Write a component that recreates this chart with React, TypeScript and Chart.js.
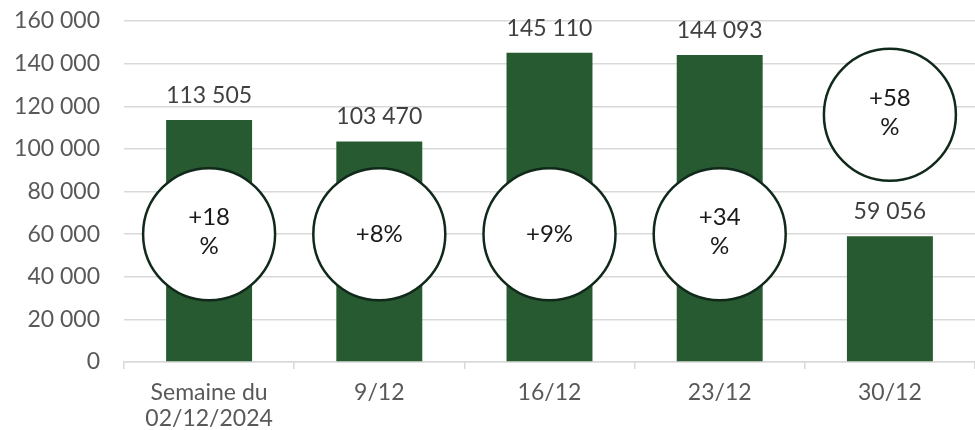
import React, { useEffect, useRef } from "react";
import { Chart, registerables } from "chart.js";

Chart.register(...registerables);

const categories: (string | string[])[] = [["Semaine du", "02/12/2024"], "9/12", "16/12", "23/12", "30/12"];
const weeklyValues = [113505, 103470, 145110, 144093, 59056];
const circleLevels = [60000, 60000, 60000, 60000, 116000];
const circleTexts: string[][] = [["+18", "%"], ["+8%"], ["+9%"], ["+34", "%"], ["+58", "%"]];

const FONT = "Lato, 'Noto Sans', sans-serif";
const fmt = (v: number) => String(Math.round(v)).replace(/\B(?=(\d{3})+(?!\d))/g, " ");

const labelPlugin = {
  id: "labels",
  afterDatasetsDraw(chart: any) {
    const ctx = chart.ctx;
    ctx.save();
    const barMeta = chart.getDatasetMeta(0);
    ctx.font = `23px ${FONT}`;
    ctx.fillStyle = "#404040";
    ctx.textAlign = "center";
    ctx.textBaseline = "alphabetic";
    barMeta.data.forEach((el: any, i: number) => {
      ctx.fillText(fmt(weeklyValues[i]), el.x, el.y - 17);
    });
    const cMeta = chart.getDatasetMeta(1);
    ctx.font = `24px ${FONT}`;
    ctx.fillStyle = "#1a1a1a";
    ctx.textBaseline = "middle";
    cMeta.data.forEach((el: any, i: number) => {
      const lines = circleTexts[i];
      const lh = 29;
      const start = el.y - (lines.length > 1 ? 2 : 0) - ((lines.length - 1) * lh) / 2;
      lines.forEach((t, j) => ctx.fillText(t, el.x, start + j * lh));
    });
    ctx.restore();
  },
};

export default function App() {
  const ref = useRef<HTMLCanvasElement>(null);
  useEffect(() => {
    document.body.style.margin = "0";
    const chart = new Chart(ref.current!, {
      type: "bar",
      data: {
        labels: categories as any,
        datasets: [
          {
            type: "bar",
            data: weeklyValues,
            backgroundColor: "#275a31",
            barPercentage: 0.505,
            categoryPercentage: 1,
            order: 2,
          },
          {
            type: "line",
            data: circleLevels,
            showLine: false,
            pointRadius: 66,
            pointHoverRadius: 66,
            pointBackgroundColor: "#ffffff",
            pointBorderColor: "#10291a",
            pointBorderWidth: 2.5,
            clip: false as any,
            order: 1,
          } as any,
        ],
      },
      options: {
        animation: false,
        responsive: false,
        devicePixelRatio: 1,
        layout: { autoPadding: false, padding: { top: 21, right: 0, bottom: 0, left: 0 } },
        plugins: { legend: { display: false }, tooltip: { enabled: false } },
        scales: {
          x: {
            afterFit: (s: any) => { s.height = 68; s.paddingLeft = 0; s.paddingRight = 0; },
            border: { display: true, color: "#d9d9d9", width: 1.5 },
            grid: { drawOnChartArea: false, drawTicks: true, tickLength: 7, color: "#d9d9d9", lineWidth: 1.5, offset: true },
            ticks: { color: "#595959", font: { family: FONT, size: 23, lineHeight: 1.13 }, padding: 11, maxRotation: 0 },
          },
          y: {
            min: 0,
            max: 160000,
            afterFit: (s: any) => { s.width = 124; s.paddingTop = 0; s.paddingBottom = 0; },
            border: { display: false },
            grid: { color: "#d9d9d9", lineWidth: 1.5, drawTicks: false },
            ticks: { stepSize: 20000, color: "#595959", font: { family: FONT, size: 23 }, padding: 24, callback: (v: any) => fmt(Number(v)) },
          },
        },
      },
      plugins: [labelPlugin],
    });
    return () => chart.destroy();
  }, []);
  return (
    <div style={{ position: "relative", width: 975, height: 430 }}>
      <canvas ref={ref} width={975} height={430} />
    </div>
  );
}
